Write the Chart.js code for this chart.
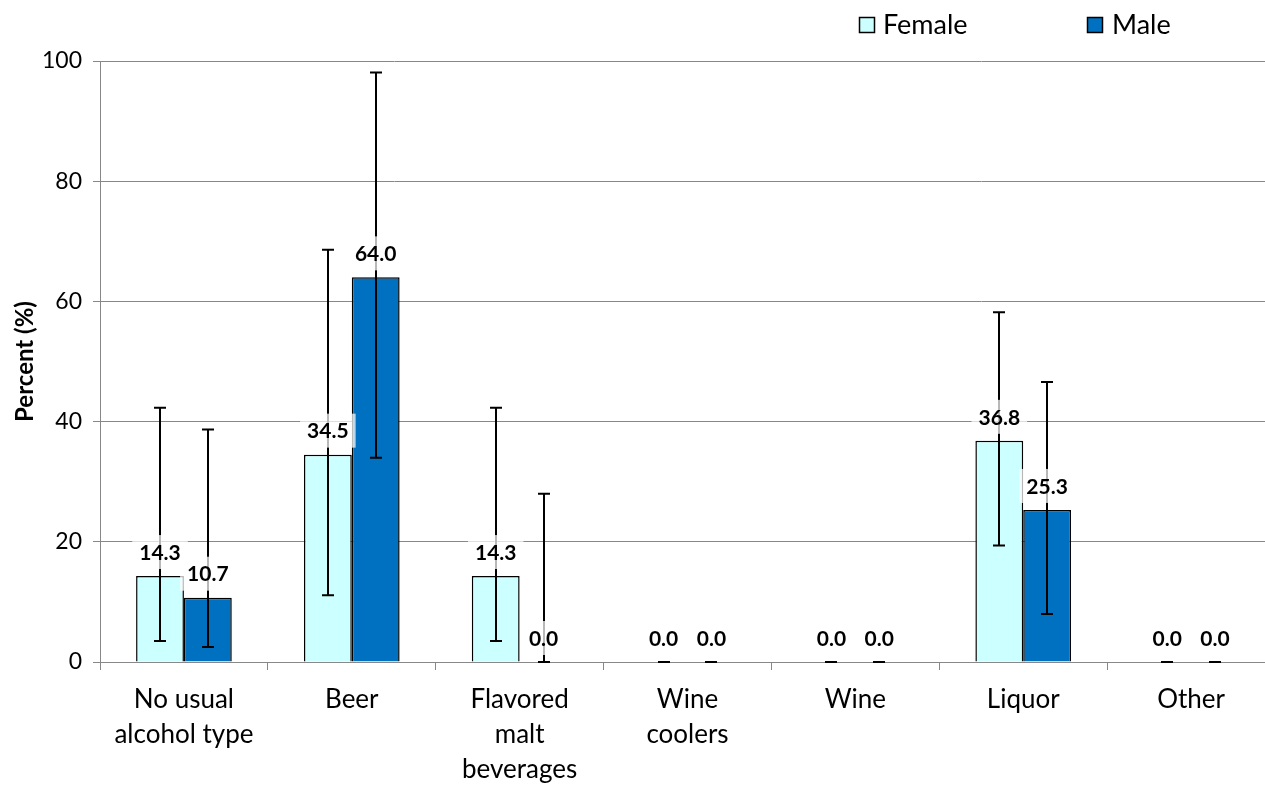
<!DOCTYPE html>
<html>
<head>
<meta charset="utf-8">
<script src="https://cdn.jsdelivr.net/npm/chart.js@4.4.1/dist/chart.umd.min.js"></script>
<style>
  html, body { margin: 0; padding: 0; background: #fff; overflow: hidden; }
  #wrap { width: 1280px; height: 786px; }
</style>
</head>
<body>
<div id="wrap"><canvas id="c" width="1280" height="786"></canvas></div>
<script>
const categories = [["No usual", "alcohol type"], "Beer", ["Flavored", "malt", "beverages"], ["Wine", "coolers"], "Wine", "Liquor", "Other"];
const seriesNames = ["Female", "Male"];
const female = [14.3, 34.5, 14.3, 0.0, 0.0, 36.8, 0.0];
const male = [10.7, 64.0, 0.0, 0.0, 0.0, 25.3, 0.0];
const femaleLow = [3.5, 11.1, 3.5, 0.0, 0.0, 19.4, 0.0];
const femaleHigh = [42.3, 68.6, 42.3, 0.0, 0.0, 58.2, 0.0];
const maleLow = [2.5, 34.0, 0.0, 0.0, 0.0, 8.0, 0.0];
const maleHigh = [38.7, 98.1, 28.0, 0.0, 0.0, 46.6, 0.0];
const yTicks = [0, 20, 40, 60, 80, 100];

const FONT = "Lato, 'Open Sans', sans-serif";
const errLow = [femaleLow, maleLow];
const errHigh = [femaleHigh, maleHigh];

const errorBars = {
  id: 'errorBars',
  afterDatasetsDraw(chart) {
    const ctx = chart.ctx, y = chart.scales.y;
    ctx.save();
    ctx.strokeStyle = '#000';
    ctx.lineWidth = 2;
    chart.data.datasets.forEach((ds, di) => {
      chart.getDatasetMeta(di).data.forEach((bar, i) => {
        const x = Math.round(bar.x);
        const lo = y.getPixelForValue(errLow[di][i]);
        const hi = y.getPixelForValue(errHigh[di][i]);
        ctx.beginPath();
        ctx.moveTo(x, lo); ctx.lineTo(x, hi);
        ctx.moveTo(x - 6, lo); ctx.lineTo(x + 6, lo);
        ctx.moveTo(x - 6, hi); ctx.lineTo(x + 6, hi);
        ctx.stroke();
      });
    });
    ctx.restore();
  }
};

const dataLabels = {
  id: 'dataLabels',
  afterDatasetsDraw(chart) {
    const ctx = chart.ctx;
    ctx.save();
    ctx.font = "bold 21px " + FONT;
    ctx.textAlign = 'center';
    ctx.textBaseline = 'middle';
    chart.data.datasets.forEach((ds, di) => {
      chart.getDatasetMeta(di).data.forEach((bar, i) => {
        const txt = ds.data[i].toFixed(1);
        const cy = bar.y - 24;
        const w = ctx.measureText(txt).width + 14;
        ctx.fillStyle = 'rgba(255,255,255,0.72)';
        ctx.fillRect(bar.x - w / 2, cy - 17, w, 34);
        ctx.fillStyle = '#000';
        ctx.fillText(txt, bar.x, cy + 1);
      });
    });
    ctx.restore();
  }
};

const legendPlugin = {
  id: 'customLegend',
  afterDraw(chart) {
    const ctx = chart.ctx;
    const pos = [[859, 883], [1087, 1112]];
    ctx.save();
    ctx.font = "27px " + FONT;
    ctx.textBaseline = 'middle';
    ctx.textAlign = 'left';
    chart.data.datasets.forEach((ds, di) => {
      const [bx, tx] = pos[di];
      ctx.fillStyle = ds.backgroundColor;
      ctx.fillRect(bx, 17, 15, 15);
      ctx.strokeStyle = '#000';
      ctx.lineWidth = 1.5;
      ctx.strokeRect(bx + 0.5, 17.5, 15, 15);
      ctx.fillStyle = '#000';
      ctx.fillText(ds.label, tx, 25);
    });
    ctx.restore();
  }
};

new Chart(document.getElementById('c'), {
  type: 'bar',
  data: {
    labels: categories,
    datasets: [
      { label: seriesNames[0], data: female, backgroundColor: '#CCFFFF', borderColor: '#000', borderWidth: 1.5 },
      { label: seriesNames[1], data: male, backgroundColor: '#0070C0', borderColor: '#000', borderWidth: 1.5 }
    ]
  },
  options: {
    responsive: false,
    animation: false,
    devicePixelRatio: 1,
    layout: { padding: { top: 61, left: 0, right: 5, bottom: 0 } },
    datasets: { bar: { categoryPercentage: 0.57, barPercentage: 1.0 } },
    plugins: { legend: { display: false }, tooltip: { enabled: false } },
    scales: {
      x: {
        grid: { display: true, drawOnChartArea: false, offset: true, color: '#888', tickLength: 8 },
        border: { color: '#888', width: 1 },
        ticks: { color: '#000', padding: 12, font: { family: FONT, size: 26, lineHeight: 35 / 26 }, maxRotation: 0, autoSkip: false },
        afterFit(s) { s.height = 124; }
      },
      y: {
        min: 0, max: 100,
        afterBuildTicks(s) { s.ticks = yTicks.map(v => ({ value: v })); },
        grid: { color: '#888', tickLength: 7 },
        border: { color: '#888', width: 1 },
        ticks: { color: '#000', padding: 11, font: { family: FONT, size: 23 } },
        title: { display: true, text: 'Percent (%)', color: '#000', font: { family: FONT, size: 24, weight: 'bold' }, padding: { top: 11, bottom: 0 } },
        afterFit(s) { s.width = 100; }
      }
    }
  },
  plugins: [errorBars, dataLabels, legendPlugin]
});
</script>
</body>
</html>
